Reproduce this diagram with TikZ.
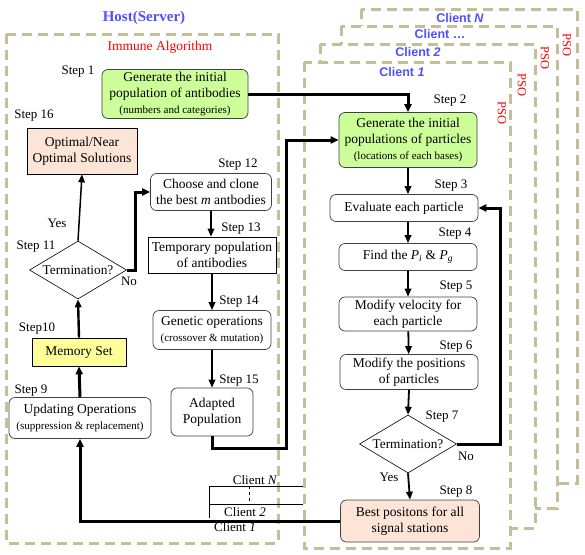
\documentclass[tikz,border=0pt]{standalone}
\usepackage{fontspec}
\setmainfont{Liberation Serif}
\newfontfamily\clientfont{Liberation Sans}
\usetikzlibrary{arrows.meta,shapes.geometric}
\definecolor{dashtan}{RGB}{198,190,152}
\definecolor{labelblue}{RGB}{80,80,255}
\definecolor{initgreen}{RGB}{204,255,153}
\definecolor{peach}{RGB}{252,229,214}
\definecolor{memyellow}{RGB}{255,255,153}
\newcommand\smalltxt[1]{{\fontsize{11}{13}\selectfont #1}}
\tikzset{
	stepbox/.style={draw, line width=0.7pt, align=center, inner sep=0pt, font=\fontsize{13.5}{16}\selectfont},
	roundbox/.style={stepbox, draw=black!75, rounded corners=6pt},
	termdiamond/.style={draw, diamond, aspect=1.67, line width=0.6pt, inner sep=0pt, minimum width=97pt, minimum height=58pt, font=\fontsize{13.3}{15}\selectfont},
	steplabel/.style={inner sep=0pt, font=\fontsize{13}{15}\selectfont},
	groupbox/.style={draw=dashtan, line width=3pt, dash pattern=on 10pt off 6pt, fill=white},
	clientlabel/.style={inner sep=0pt, text=labelblue, font=\clientfont\bfseries\fontsize{12.5}{14}\selectfont},
	psolabel/.style={inner sep=0pt, text=red, rotate=-90, font=\fontsize{12.5}{14}\selectfont},
	flow/.style={line width=1.8pt, -{Triangle[length=8pt,width=6.5pt]}},
	bigflow/.style={line width=3pt, -{Triangle[length=8pt,width=7pt]}},
}

\begin{document}
\begin{tikzpicture}[x=1pt, y=-1pt]
			%%%%% START %%%%%
			\useasboundingbox (0, 0) rectangle (585, 554);
			
			% host and clients
			\draw[groupbox] (6, 34) rectangle (278, 543);
			\node[inner sep=0pt, text=labelblue, font=\bfseries\fontsize{15}{17}\selectfont] at (144, 18) {Host(Server)};
			\node[inner sep=0pt, text=red, font=\fontsize{13.5}{15}\selectfont] at (160, 47) {Immune Algorithm};
			
			\draw[groupbox] (361, 9) rectangle (577, 483);
			\draw[groupbox] (341, 26) rectangle (557, 508);
			\draw[groupbox] (320, 44) rectangle (535, 528);
			\draw[groupbox] (304, 62) rectangle (510, 548);
			
			\node[clientlabel] at (460, 18) {Client \textit{N}};
			\node[clientlabel] at (440, 34) {Client \dots};
			\node[clientlabel] at (418, 52) {Client \textit{2}};
			\node[clientlabel] at (402, 72) {Client \textit{1}};
			\node[psolabel] at (567, 45) {PSO};
			\node[psolabel] at (545, 58) {PSO};
			\node[psolabel] at (522, 85) {PSO};
			\node[psolabel] at (502, 113) {PSO};
			
			% immune algorithm
			\node[roundbox, fill=initgreen, minimum width=146pt, minimum height=49pt] (s1) at (175, 94) {Generate the initial\\population of antibodies\\\smalltxt{(numbers and categories)}};
			\node[stepbox, fill=peach, minimum width=110pt, minimum height=46pt] (s16) at (82, 151) {Optimal/Near\\Optimal Solutions};
			\node[roundbox, minimum width=121pt, minimum height=37pt] (s12) at (211, 192) {Choose and clone\\the best \textit{m} antbodies};
			\node[stepbox, minimum width=128pt, minimum height=36pt] (s13) at (212, 255) {Temporary population\\of antibodies};
			\node[termdiamond] (s11) at (78, 270) {Termination?};
			\node[roundbox, minimum width=118pt, minimum height=39pt] (s14) at (212, 330) {Genetic operations\\\smalltxt{(crossover \& mutation)}};
			\node[stepbox, fill=memyellow, minimum width=94pt, minimum height=28pt] (s10) at (79, 352) {Memory Set};
			\node[roundbox, minimum width=82pt, minimum height=48pt] (s15) at (212, 412) {Adapted\\Population};
			\node[roundbox, minimum width=142pt, minimum height=41pt] (s9) at (80, 418) {Updating Operations\\\smalltxt{(suppression \& replacement)}};
			
			% pso
			\node[roundbox, fill=initgreen, minimum width=138pt, minimum height=55pt] (s2) at (408, 140) {Generate the initial\\populations of particles\\\smalltxt{(locations of each bases)}};
			\node[roundbox, minimum width=148pt, minimum height=27pt] (s3) at (404, 208) {Evaluate each particle};
			\node[roundbox, minimum width=138pt, minimum height=27pt] (s4) at (408, 257) {Find the \textit{P}\textsubscript{\itshape i} \& \textit{P}\textsubscript{\itshape g}};
			\node[roundbox, minimum width=138pt, minimum height=34pt] (s5) at (408, 314) {Modify velocity for\\each particle};
			\node[roundbox, minimum width=138pt, minimum height=35pt] (s6) at (409, 372) {Modify the positions\\of particles};
			\node[termdiamond] (s7) at (408, 444) {Termination?};
			\node[roundbox, fill=peach, minimum width=139pt, minimum height=42pt] (s8) at (410, 521) {Best positons for all\\signal stations};
			
			% step labels
			\node[steplabel] at (78, 72) {Step 1};
			\node[steplabel] at (34, 116) {Step 16};
			\node[steplabel] at (238, 165) {Step 12};
			\node[steplabel] at (241, 229) {Step 13};
			\node[steplabel] at (36, 247) {Step 11};
			\node[steplabel] at (57, 223) {Yes};
			\node[steplabel] at (129, 281) {No};
			\node[steplabel] at (239, 302) {Step 14};
			\node[steplabel] at (37, 329) {Step10};
			\node[steplabel] at (31, 391) {Step 9};
			\node[steplabel] at (239, 381) {Step 15};
			\node[steplabel] at (450, 101) {Step 2};
			\node[steplabel] at (451, 186) {Step 3};
			\node[steplabel] at (455, 234) {Step 4};
			\node[steplabel] at (456, 287) {Step 5};
			\node[steplabel] at (456, 347) {Step 6};
			\node[steplabel] at (442, 417) {Step 7};
			\node[steplabel] at (466, 456) {No};
			\node[steplabel] at (389, 477) {Yes};
			\node[steplabel] at (456, 492) {Step 8};
			
			% other clients feeding step 9
			\draw[line width=0.7pt] (209, 518) -- (209, 486) -- (303, 486);
			\draw[line width=0.7pt] (209, 504) -- (303, 504);
			\draw[line width=0.7pt, dashed] (249, 486) -- (249, 504);
			\node[steplabel] at (255, 480) {Client \textit{N}};
			\node[steplabel] at (245, 512) {Client \textit{2}};
			\node[steplabel] at (235, 527) {Client \textit{1}};
			
			% connectors
			\coordinate (c15turn) at (286, 448);
			\coordinate (c11turn) at (135, 270);
			\coordinate (c7turn) at (500, 444);
			
			\draw[bigflow] (s1.east) -| (s2.north);
			\draw[bigflow] (s15.south) |- (c15turn) |- (s2.west);
			\draw[flow] (s2.south) -- (s2.south |- s3.north);
			\draw[flow] (s3.south -| s4.north) -- (s4.north);
			\draw[flow] (s4) -- (s5);
			\draw[flow] (s5) -- (s6);
			\draw[flow] (s6.south) -- (s7.north);
			\draw[bigflow] (s7.east) -- (c7turn) |- (s3.east);
			\draw[flow] (s7.south) -- (s8.north);
			\draw[bigflow] (s8.west) -| (s9.south);
			\draw[bigflow] (s9.north) -- (s10.south);
			\draw[flow, line width=2.4pt] (s10.north) -- (s11.south);
			\draw[flow, line width=1.5pt] (s11.north) -- (s16.south);
			\draw[bigflow] (s11.east) -- (c11turn) |- (s12.west);
			\draw[flow] (s12.south) -- (s12.south |- s13.north);
			\draw[flow] (s13) -- (s14);
			\draw[flow] (s14) -- (s15);
			
			%%%%% END %%%%%
\end{tikzpicture}
\end{document}
